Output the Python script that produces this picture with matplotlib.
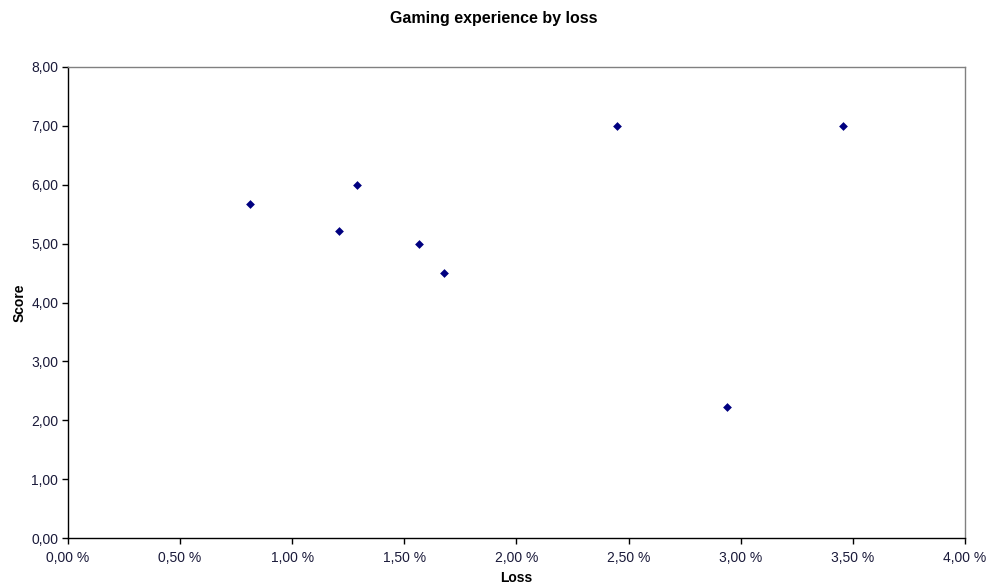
import matplotlib
matplotlib.use("Agg")
import matplotlib.pyplot as plt
from matplotlib.ticker import FuncFormatter, MultipleLocator

plt.rcParams['font.family'] = ['Liberation Sans', 'DejaVu Sans']

# loss in percent, score
loss = [0.81, 1.21, 1.29, 1.565, 1.675, 2.45, 2.94, 3.455]
score = [5.67, 5.22, 6.00, 5.00, 4.50, 7.00, 2.22, 7.00]

fig = plt.figure(figsize=(9.87, 5.86), dpi=100)
ax = fig.add_axes([68/987, 48/586, 897/987, 471/586])

ax.scatter(loss, score, marker='D', s=20, color='#000080', linewidths=0, zorder=3)

ax.set_xlim(0, 4)
ax.set_ylim(0, 8)
ax.xaxis.set_major_locator(MultipleLocator(0.5))
ax.yaxis.set_major_locator(MultipleLocator(1))
ax.xaxis.set_major_formatter(FuncFormatter(lambda v, p: ('%.2f %%' % v).replace('.', ',')))
ax.yaxis.set_major_formatter(FuncFormatter(lambda v, p: ('%.2f' % v).replace('.', ',')))

for s in ['left', 'bottom']:
    ax.spines[s].set_color('black')
    ax.spines[s].set_linewidth(1.0)
for s in ['top', 'right']:
    ax.spines[s].set_color('#808080')
    ax.spines[s].set_linewidth(1.0)

ax.tick_params(direction='out', length=4, width=1, labelsize=10, colors='black', pad=3)
ax.tick_params(axis='x', pad=5)
for lab in ax.get_xticklabels() + ax.get_yticklabels():
    lab.set_color('#1a1a3a')

ax.set_xlabel('Loss', fontsize=10, fontweight='bold', labelpad=5)
ax.set_ylabel('Score', fontsize=10, fontweight='bold', labelpad=3)
fig.text(0.5, 1 - 18/586, 'Gaming experience by loss', ha='center', va='center',
         fontsize=11.5, fontweight='bold')

fig.savefig('out.png', dpi=100)
